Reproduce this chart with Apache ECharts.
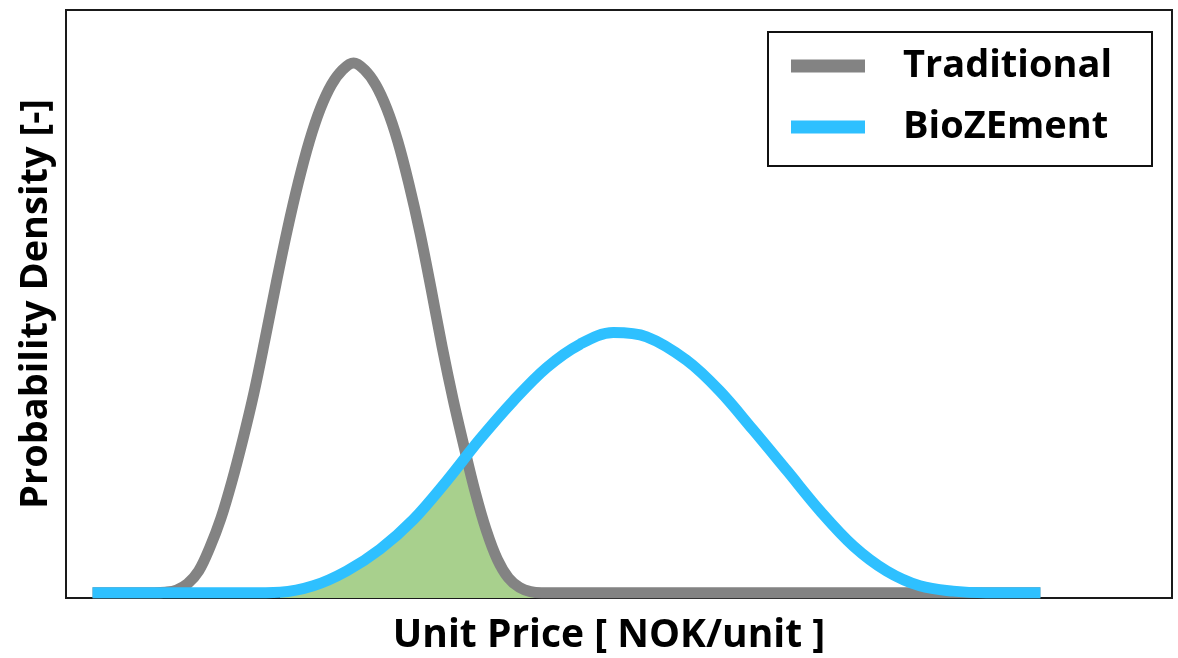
<!DOCTYPE html>
<html>
<head>
<meta charset="utf-8">
<script src="https://cdn.jsdelivr.net/npm/echarts@6/dist/echarts.min.js"></script>
<style>
html,body{margin:0;padding:0;background:#fff;}
#c{width:1178px;height:658px;}
</style>
</head>
<body>
<div id="c"></div>
<script>
// Values (arbitrary price / density units)
const traditionalPrice   = [2.4, 5, 8, 9, 10, 11, 12, 13, 14, 15, 16, 17, 18, 19, 20, 21, 22, 23, 24, 25, 26,
                            27, 28, 29, 30, 31, 32, 33, 34, 35, 36, 37, 38, 39, 40, 41, 42, 43, 46, 88.1];
const traditionalDensity = [0, 0, 0, 0.001, 0.005, 0.017, 0.041, 0.085, 0.140, 0.210, 0.290, 0.378, 0.479, 0.584, 0.684, 0.774, 0.852, 0.914, 0.959, 0.987, 1.000,
                            0.987, 0.959, 0.914, 0.852, 0.772, 0.680, 0.575, 0.465, 0.365, 0.275, 0.190, 0.118, 0.063, 0.028, 0.010, 0.002, 0, 0, 0];

const bioPrice   = [2.4, 10, 16.3, 19.35, 22.36, 25.38, 28.39, 31.4, 34.42, 37.43, 40.44, 43.46, 46.47, 49.49,
                    52.5, 56.1, 59.1, 62.1, 65.2, 68.2, 71.2, 74.2, 77.2, 80.2, 83.2, 88.1];
const bioDensity = [0, 0, 0, 0.001, 0.013, 0.041, 0.082, 0.138, 0.211, 0.290, 0.362, 0.425, 0.469, 0.491,
                    0.483, 0.439, 0.381, 0.308, 0.230, 0.154, 0.088, 0.041, 0.013, 0.003, 0, 0];

// Overlap region (green)
const overlapPrice   = [19.35, 22.36, 25.38, 28.39, 31.4, 34.42, 36.2, 37, 38, 39, 40, 41, 42, 43];
const overlapDensity = [0.001, 0.013, 0.041, 0.082, 0.138, 0.211, 0.256, 0.190, 0.118, 0.063, 0.028, 0.010, 0.002, 0];

const seriesNames = ['Traditional', 'BioZEment'];
const xTitle = 'Unit Price [ NOK/unit ]';
const yTitle = 'Probability Density [-]';

const zip = (xs, ys) => xs.map((x, i) => [x, ys[i]]);
const FONT = '"Open Sans", sans-serif';

const chart = echarts.init(document.getElementById('c'), null, {renderer: 'canvas'});
chart.setOption({
  animation: false,
  backgroundColor: '#ffffff',
  grid: {
    left: 66, right: 6, top: 10, bottom: 60,
    show: true, borderColor: '#1a1a1a', borderWidth: 2,
    containLabel: false, outerBoundsMode: 'none'
  },
  xAxis: {
    type: 'value', min: 0, max: 100,
    axisLine: {show: false}, axisTick: {show: false}, axisLabel: {show: false}, splitLine: {show: false},
    name: xTitle, nameLocation: 'middle', nameGap: 18,
    nameTextStyle: {fontFamily: FONT, fontWeight: 'bold', fontSize: 39, color: '#000', padding: [0, 20, 0, 0]}
  },
  yAxis: {
    type: 'value', min: -0.01, max: 1.1,
    axisLine: {show: false}, axisTick: {show: false}, axisLabel: {show: false}, splitLine: {show: false},
    name: yTitle, nameLocation: 'middle', nameGap: 11,
    nameTextStyle: {fontFamily: FONT, fontWeight: 'bold', fontSize: 38, color: '#000'}
  },
  legend: {
    data: seriesNames,
    orient: 'vertical', right: 26, top: 32,
    icon: 'rect', itemWidth: 74, itemHeight: 13, itemGap: 17,
    padding: [12, 40, 17, 23],
    borderColor: '#111', borderWidth: 2, backgroundColor: '#fff',
    textStyle: {fontFamily: FONT, fontWeight: 'bold', fontSize: 38, color: '#000', lineHeight: 44, padding: [0, 0, 0, 33]}
  },
  series: [
    {
      name: 'overlap', type: 'line', data: zip(overlapPrice, overlapDensity),
      smooth: false, symbol: 'none', silent: true, z: 1,
      lineStyle: {width: 0, opacity: 0},
      areaStyle: {color: '#a8d08d', opacity: 1, origin: 'start'}
    },
    {
      name: seriesNames[0], type: 'line', data: zip(traditionalPrice, traditionalDensity),
      smooth: 0.35, symbol: 'none', z: 2, color: '#838383',
      lineStyle: {width: 11, color: '#838383', join: 'round', cap: 'butt'}
    },
    {
      name: seriesNames[1], type: 'line', data: zip(bioPrice, bioDensity),
      smooth: 0.35, symbol: 'none', z: 3, color: '#2ec0ff',
      lineStyle: {width: 11, color: '#2ec0ff', join: 'round', cap: 'butt'}
    }
  ]
});
</script>
</body>
</html>
